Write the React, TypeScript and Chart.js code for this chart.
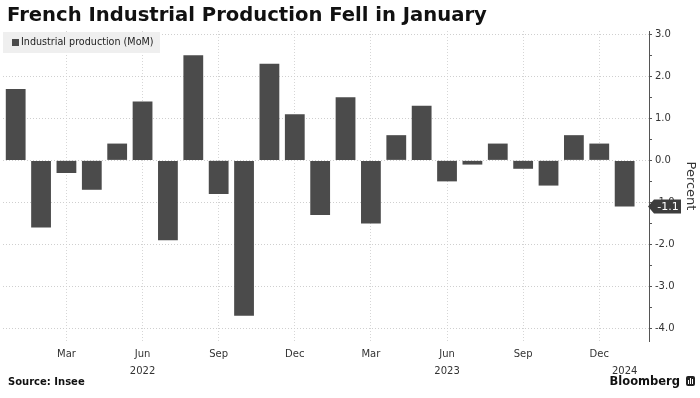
import React, { useEffect, useRef } from 'react';
import { Chart, registerables } from 'chart.js';

Chart.register(...registerables);

const months = [
  '2022-01', '2022-02', '2022-03', '2022-04', '2022-05', '2022-06', '2022-07', '2022-08', '2022-09', '2022-10', '2022-11', '2022-12',
  '2023-01', '2023-02', '2023-03', '2023-04', '2023-05', '2023-06', '2023-07', '2023-08', '2023-09', '2023-10', '2023-11', '2023-12',
  '2024-01',
];
const production = [
  1.7, -1.6, -0.3, -0.7, 0.4, 1.4, -1.9, 2.5, -0.8, -3.7, 2.3, 1.1,
  -1.3, 1.5, -1.5, 0.6, 1.3, -0.5, -0.1, 0.4, -0.2, -0.6, 0.6, 0.4,
  -1.1,
];
const xTickPositions = [2, 5, 8, 11, 14, 17, 20, 23, 24];
const xTickLabels = [['Mar'], ['Jun', '2022'], ['Sep'], ['Dec'], ['Mar'], ['Jun', '2023'], ['Sep'], ['Dec'], ['', '2024']];
const yTicks = [-4, -3.5, -3, -2.5, -2, -1.5, -1, -0.5, 0, 0.5, 1, 1.5, 2, 2.5, 3];

const FONT = "'DejaVu Sans', Verdana, sans-serif";
const BAR = '#4b4b4b';

const valueTag = {
  id: 'valueTag',
  afterDraw(chart: any) {
    const { ctx, chartArea, scales } = chart;
    const last = production[production.length - 1];
    const y = scales.y.getPixelForValue(last);
    const x0 = chartArea.right - 1;
    const h = 14;
    ctx.save();
    ctx.fillStyle = '#3d3d3d';
    ctx.beginPath();
    ctx.moveTo(x0, y);
    ctx.lineTo(x0 + 6, y - h / 2);
    ctx.lineTo(x0 + 33, y - h / 2);
    ctx.lineTo(x0 + 33, y + h / 2);
    ctx.lineTo(x0 + 6, y + h / 2);
    ctx.closePath();
    ctx.fill();
    ctx.fillStyle = '#ffffff';
    ctx.font = `11px ${FONT}`;
    ctx.textAlign = 'center';
    ctx.textBaseline = 'middle';
    ctx.fillText(last.toFixed(1), x0 + 20, y + 0.5);
    ctx.restore();
  },
};

function ChartCanvas() {
  const ref = useRef<HTMLCanvasElement | null>(null);
  useEffect(() => {
    if (!ref.current) return;
    const chart = new Chart(ref.current, {
      type: 'bar',
      data: {
        labels: months,
        datasets: [
          {
            label: 'Industrial production (MoM)',
            data: production.map((v, i) => ({ x: i, y: v })),
            backgroundColor: BAR,
            borderWidth: 0,
            barPercentage: 0.78,
            categoryPercentage: 1,
          },
        ],
      },
      options: {
        animation: false,
        responsive: false,
        maintainAspectRatio: false,
        layout: { padding: { top: 31, left: 3, right: 0, bottom: 13 } },
        plugins: { legend: { display: false }, title: { display: false }, tooltip: { enabled: false } },
        scales: {
          x: {
            type: 'linear',
            min: -0.5,
            max: 24.96,
            offset: false,
            afterBuildTicks: (axis: any) => {
              axis.ticks = xTickPositions.map((v) => ({ value: v }));
            },
            ticks: {
              autoSkip: false,
              maxRotation: 0,
              minRotation: 0,
              padding: 5,
              color: '#333',
              font: { family: FONT, size: 10, lineHeight: 1.7 },
              callback: (v: any) => {
                const i = xTickPositions.indexOf(Number(v));
                return i >= 0 ? xTickLabels[i] : '';
              },
            },
            grid: {
              offset: false,
              drawTicks: false,
              color: (c: any) => (c.tick && c.tick.value === 24 ? 'rgba(0,0,0,0)' : '#d6d6d6'),
            },
            border: { display: false, dash: [1, 2] },
          },
          y: {
            position: 'right',
            min: -4.3,
            max: 3.08,
            afterBuildTicks: (axis: any) => {
              axis.ticks = yTicks.map((v) => ({ value: v }));
            },
            afterFit: (axis: any) => {
              axis.width = 51;
            },
            ticks: {
              padding: 3,
              color: '#333',
              font: { family: FONT, size: 10 },
              callback: (v: any) => (Number.isInteger(Number(v)) ? Number(v).toFixed(1) : ''),
            },
            grid: {
              color: (c: any) => (c.tick && Number.isInteger(c.tick.value) ? '#cfcfcf' : 'rgba(0,0,0,0)'),
              tickColor: '#555',
              tickLength: 3,
              drawTicks: true,
            },
            border: { display: true, color: '#555', width: 1, dash: [1, 2] },
            title: {
              display: true,
              text: 'Percent',
              color: '#333',
              font: { family: FONT, size: 13 },
              padding: { top: 2, bottom: 0 },
            },
          },
        },
      },
      plugins: [valueTag],
    } as any);
    return () => chart.destroy();
  }, []);
  return <canvas ref={ref} width={700} height={398} style={{ position: 'absolute', left: 0, top: 0, width: 700, height: 398 }} />;
}

export default function App() {
  return (
    <div style={{ position: 'fixed', left: 0, top: 0, width: 700, height: 398, background: '#fff', overflow: 'hidden', fontFamily: FONT }}>
      <ChartCanvas />
      <div style={{ position: 'absolute', left: 7, top: 2, fontSize: 19.6, lineHeight: '26px', fontWeight: 'bold', color: '#111', whiteSpace: 'nowrap' }}>
        French Industrial Production Fell in January
      </div>
      <div style={{ position: 'absolute', left: 3, top: 32, width: 157, height: 21, background: '#efefef' }}>
        <div style={{ position: 'absolute', left: 9, top: 7, width: 7, height: 7, background: BAR }} />
        <div style={{ position: 'absolute', left: 18, top: 3, fontSize: 9.6, lineHeight: '14px', color: '#222', whiteSpace: 'nowrap' }}>
          Industrial production (MoM)
        </div>
      </div>
      <div style={{ position: 'absolute', left: 8, top: 374, fontSize: 10, lineHeight: '16px', fontWeight: 'bold', color: '#111' }}>Source: Insee</div>
      <div style={{ position: 'absolute', right: 20, top: 372, fontSize: 11.5, lineHeight: '18px', fontWeight: 'bold', color: '#111' }}>Bloomberg</div>
      <div style={{ position: 'absolute', left: 686, top: 376, width: 9, height: 10, background: '#222', borderRadius: 2 }}>
        <div style={{ position: 'absolute', left: 2, top: 4, width: 1, height: 4, background: '#fff' }} />
        <div style={{ position: 'absolute', left: 4, top: 2, width: 1, height: 6, background: '#fff' }} />
        <div style={{ position: 'absolute', left: 6, top: 3, width: 1, height: 5, background: '#fff' }} />
      </div>
    </div>
  );
}
